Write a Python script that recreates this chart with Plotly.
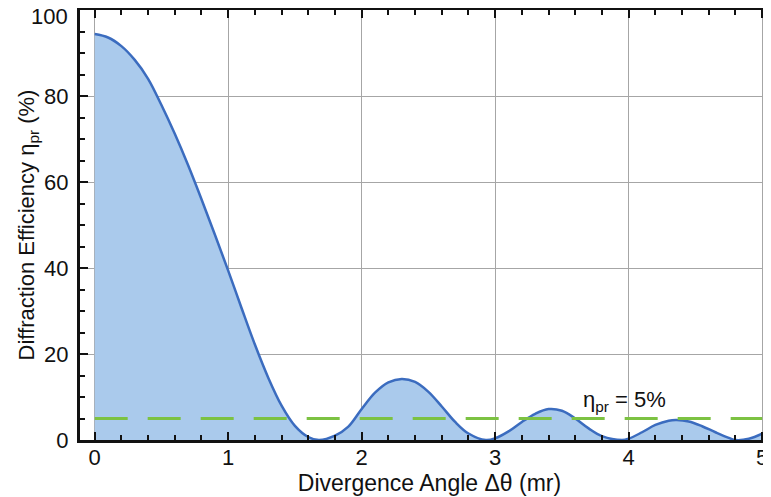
import plotly.graph_objects as go

# Divergence angle (mr) and diffraction efficiency (%)
angle = [0.0, 0.1, 0.2, 0.3, 0.4, 0.5, 0.6, 0.7, 0.8, 0.9, 1.0,
         1.1, 1.2, 1.3, 1.4, 1.5, 1.6, 1.68, 1.8, 1.9, 2.0, 2.1, 2.2, 2.3,
         2.4, 2.5, 2.6, 2.7, 2.8, 2.93, 3.0, 3.1, 3.2, 3.3, 3.4, 3.5, 3.6,
         3.7, 3.8, 3.95, 4.0, 4.1, 4.2, 4.3, 4.36, 4.45, 4.55, 4.65, 4.75,
         4.8, 4.9, 5.0]
efficiency = [94.4, 93.6, 91.6, 88.4, 84.0, 77.9, 71.2, 63.9, 56.0, 47.8, 39.4,
              30.7, 22.2, 14.5, 8.0, 3.3, 0.7, 0.0, 1.0, 3.1, 7.2, 11.0, 13.4, 14.2,
              13.5, 11.2, 7.8, 4.2, 1.5, 0.0, 0.4, 2.0, 4.2, 6.1, 7.2, 6.8, 5.0,
              2.7, 0.9, 0.0, 0.3, 1.8, 3.5, 4.5, 4.65, 4.3, 3.2, 1.8, 0.5,
              0.0, 0.3, 1.5]

# 5% threshold line
threshold_x = [0, 5]
threshold_y = [5, 5]
threshold_label = "η<sub>pr</sub> = 5%"

x_ticks = [0, 1, 2, 3, 4, 5]
y_ticks = [0, 20, 40, 60, 80, 100]
y_tick_labels = ["0", "20", "40", "60", "80", "100"]

FONT = "Arial, 'Liberation Sans', Helvetica, sans-serif"
INK = "#111111"

fig = go.Figure()
fig.add_trace(go.Scatter(
    x=angle, y=efficiency, mode="lines",
    line=dict(color="#3b6cbf", width=2.5, shape="spline", smoothing=1.0),
    fill="tozeroy", fillcolor="#aacaec", showlegend=False, hoverinfo="skip"))
fig.add_trace(go.Scatter(
    x=threshold_x, y=threshold_y, mode="lines",
    line=dict(color="#7cc242", width=3, dash="33px,20px"),
    showlegend=False, hoverinfo="skip"))

fig.add_annotation(x=3.965, y=5.4, xref="x", yref="y", text=threshold_label,
                   showarrow=False, xanchor="center", yanchor="bottom",
                   font=dict(family=FONT, size=22, color=INK))

# top tick label drawn slightly lower so it is not clipped by the page edge
fig.add_annotation(x=0, y=y_ticks[-1], xref="paper", yref="y",
                   text=y_tick_labels[-1], showarrow=False, xanchor="right",
                   yanchor="middle", xshift=-11, yshift=-6, borderpad=0,
                   font=dict(family=FONT, size=22, color=INK))

fig.update_layout(
    width=771, height=497,
    margin=dict(l=72, r=0, t=2, b=65),
    paper_bgcolor="white", plot_bgcolor="white",
    font=dict(family=FONT, size=22, color=INK),
    xaxis=dict(range=[-0.110, 5.126], tickvals=x_ticks, ticks="inside", ticklen=8,
               tickwidth=2, tickcolor=INK, showline=True, linecolor=INK,
               linewidth=3, mirror="ticks", showgrid=True, gridcolor="#a6a6a6",
               gridwidth=1, zeroline=False, automargin=False,
               ticklabeloverflow="allow", ticklabelstandoff=-4,
               minor=dict(dtick=0.2, ticks="inside", ticklen=5, tickwidth=1.5,
                          tickcolor=INK, showgrid=False),
               title=dict(text="Divergence Angle Δθ (mr)", standoff=0,
                          font=dict(size=23)),
               tickfont=dict(size=22)),
    yaxis=dict(range=[0, 100], tickvals=y_ticks,
               ticktext=y_tick_labels[:-1] + [""],
               ticks="inside", ticklen=8,
               tickwidth=2, tickcolor=INK, showline=True, linecolor=INK,
               linewidth=3, mirror=False, showgrid=True, gridcolor="#a6a6a6",
               gridwidth=1, zeroline=False, automargin=False,
               ticklabeloverflow="allow", ticklabelstandoff=4,
               minor=dict(dtick=5, ticks="inside", ticklen=5, tickwidth=1.5,
                          tickcolor=INK, showgrid=False),
               title=dict(text="Diffraction Efficiency η<sub>pr</sub> (%)",
                          standoff=4, font=dict(size=22)),
               tickfont=dict(size=22)),
)

fig.write_html("out.html")
